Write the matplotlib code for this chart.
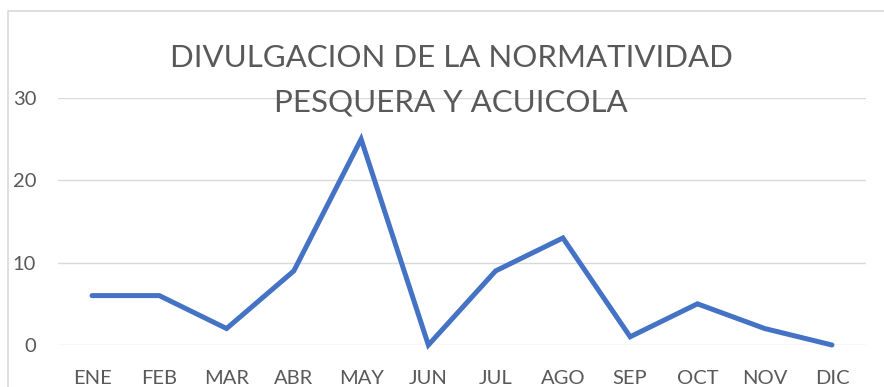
import matplotlib
matplotlib.use("Agg")
import matplotlib.pyplot as plt
from matplotlib.patches import Rectangle

meses = ["ENE", "FEB", "MAR", "ABR", "MAY", "JUN", "JUL", "AGO", "SEP", "OCT", "NOV", "DIC"]
divulgaciones = [6, 6, 2, 9, 25, 0, 9, 13, 1, 5, 2, 0]
y_ticks = [0, 10, 20, 30]

W, H = 884, 387
fig = plt.figure(figsize=(W / 100, H / 100), dpi=100)

# chart frame, cut off on the right and bottom
fig.patches.append(Rectangle((8 / W, -0.05), 1.0, 1 - 11 / H + 0.05,
                             transform=fig.transFigure, fill=False,
                             edgecolor="#d9d9d9", linewidth=1.2))

ax = fig.add_axes([58.4 / W, 42 / H, (865.6 - 58.4) / W, (289 - 42) / H])
x = range(len(meses))
ax.plot(x, divulgaciones, color="#4472C4", linewidth=3.6,
        solid_joinstyle="miter", solid_capstyle="round", clip_on=False, zorder=3)

ax.set_xlim(-0.5, len(meses) - 0.5)
ax.set_ylim(0, 30)
ax.set_yticks(y_ticks)
ax.set_xticks(list(x))
ax.set_xticklabels(meses)
ax.grid(axis="y", color="#d9d9d9", linewidth=1.0)
ax.set_axisbelow(True)
for s in ax.spines.values():
    s.set_visible(False)
ax.tick_params(length=0, labelsize=14.5, labelcolor="#595959")
ax.tick_params(axis="x", pad=18)
ax.tick_params(axis="y", pad=16)
for lbl in ax.get_xticklabels() + ax.get_yticklabels():
    lbl.set_family("Lato")

title_kw = dict(ha="center", va="center", fontsize=22.5, color="#595959", family="Lato")
fig.text(451 / W, 1 - 58 / H, "DIVULGACION DE LA NORMATIVIDAD", **title_kw)
fig.text(451 / W, 1 - 103 / H, "PESQUERA Y ACUICOLA", **title_kw)

fig.savefig("out.png", dpi=100)
